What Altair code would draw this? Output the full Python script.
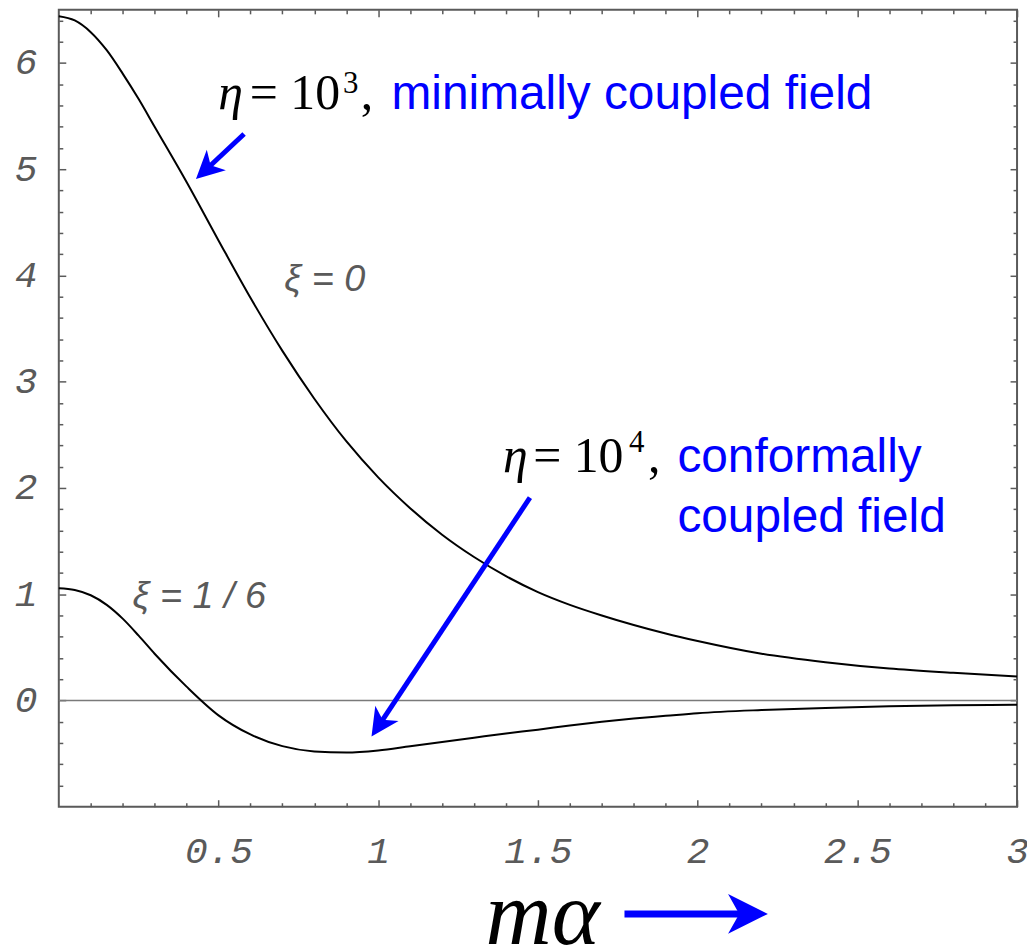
import math
import altair as alt
import pandas as pd

# ---------------- data ----------------
m_alpha = [0, 0.05, 0.1, 0.15, 0.2, 0.25, 0.3, 0.4, 0.5, 0.6, 0.7, 0.8, 0.9, 1.0,
           1.1, 1.2, 1.3, 1.4, 1.5, 1.6, 1.7, 1.8, 1.9, 2.0, 2.2, 2.4, 2.6, 2.8, 3.0]
xi_zero = [6.44, 6.40, 6.29, 6.12, 5.90, 5.66, 5.40, 4.88, 4.33, 3.79, 3.29, 2.84,
           2.44, 2.10, 1.81, 1.56, 1.35, 1.17, 1.02, 0.90, 0.80, 0.71, 0.63, 0.56,
           0.44, 0.36, 0.30, 0.26, 0.225]
xi_sixth = [1.056, 1.04, 0.99, 0.90, 0.77, 0.61, 0.44, 0.13, -0.14, -0.32, -0.43,
            -0.48, -0.49, -0.47, -0.43, -0.39, -0.35, -0.31, -0.275, -0.235, -0.20,
            -0.17, -0.145, -0.12, -0.09, -0.07, -0.055, -0.045, -0.04]

x_major = [0.5, 1, 1.5, 2, 2.5, 3]
x_minor = [round(0.1 * i, 1) for i in range(1, 30) if i % 5]
y_major = [0, 1, 2, 3, 4, 5, 6]
y_minor = [round(-1 + 0.2 * i, 1) for i in range(1, 38) if i % 5]

# annotation texts (data coordinates)
xi_text = ["ξ = 0", "ξ = 1 / 6"]
xi_text_x = [0.833, 0.44]
xi_text_y = [3.96, 0.97]

eta_x = [0.499, 1.391]
eta_y = [5.566, 2.153]
eq_x = [0.598, 1.485]
sup_text = ["3", "4"]
sup_x = [0.890, 1.785]
sup_y = [5.72, 2.34]
comma_x = [0.945, 1.845]

blue_text = ["minimally coupled field", "conformally", "coupled field"]
blue_x = [1.0416, 1.9366, 1.9366]
blue_y = [5.566, 2.153, 1.582]

# arrows: tail -> tip (data coordinates)
arrow_tail_x = [0.580, 1.475, 1.771]
arrow_tail_y = [5.331, 1.909, -2.009]
arrow_tip_x = [0.4294, 0.979, 2.220]
arrow_tip_y = [4.907, -0.340, -2.009]
arrow_head = [28, 28, 40]
arrow_shaft = [5, 5, 7]

title_text = "mα"
title_x = 1.515
title_y = -2.29

# ---------------- chart ----------------
W, H = 962, 800
XD, YD = [0, 3], [-1, 6.5]
px_x = W / (XD[1] - XD[0])
px_y = H / (YD[1] - YD[0])

xs = alt.Scale(domain=XD, nice=False, zero=False)
ys = alt.Scale(domain=YD, nice=False, zero=False)

curve_df = pd.DataFrame(
    {"m": m_alpha * 2,
     "value": xi_zero + xi_sixth,
     "series": ["xi0"] * len(m_alpha) + ["xi16"] * len(m_alpha)})

FRAME = "#5a5a5a"
LABEL = "#5a5a5a"
TICKFONT = "Liberation Mono"


def tick_axis(orient, values, size, labels=False, pad=0):
    kw = dict(orient=orient, values=values, offset=-size, tickSize=size,
              tickWidth=1.5, tickColor=FRAME, domain=False, grid=False,
              labels=labels, title=None)
    if labels:
        kw.update(labelFont=TICKFONT, labelFontStyle="italic", labelFontSize=38,
                  labelFontWeight="normal", labelColor=LABEL, labelPadding=pad,
                  format="~g", labelFlush=False, labelOverlap=False)
    return alt.Axis(**kw)


def carrier(xaxis, yaxis):
    return alt.Chart(curve_df).mark_point(opacity=0).encode(
        x=alt.X("m:Q", scale=xs, axis=xaxis),
        y=alt.Y("value:Q", scale=ys, axis=yaxis))


carriers = [
    carrier(tick_axis("bottom", x_major, 7, True, 26), tick_axis("left", y_major, 7, True, 22)),
    carrier(tick_axis("bottom", x_minor, 4), tick_axis("left", y_minor, 4)),
    carrier(tick_axis("top", x_major, 7), tick_axis("right", y_major, 7)),
    carrier(tick_axis("top", x_minor, 4), tick_axis("right", y_minor, 4)),
]

zero_line = alt.Chart(pd.DataFrame({"v": [0]})).mark_rule(
    color="#7a7a7a", strokeWidth=1.5).encode(y=alt.Y("v:Q", scale=ys, axis=None))

curves = alt.Chart(curve_df).mark_line(
    color="black", strokeWidth=2, interpolate="monotone").encode(
    x=alt.X("m:Q", scale=xs, axis=None),
    y=alt.Y("value:Q", scale=ys, axis=None),
    detail="series:N")


def text_layer(df, **mark):
    return alt.Chart(df).mark_text(**mark).encode(
        x=alt.X("x:Q", scale=xs, axis=None),
        y=alt.Y("y:Q", scale=ys, axis=None),
        text="t:N")


xi_labels = text_layer(pd.DataFrame({"x": xi_text_x, "y": xi_text_y, "t": xi_text}),
                       font="Liberation Sans", fontStyle="italic", fontSize=38,
                       color="#5a5a5a", align="center", baseline="middle")

eta = text_layer(pd.DataFrame({"x": eta_x, "y": eta_y, "t": ["η", "η"]}),
                 font="Liberation Serif", fontStyle="italic", fontSize=50,
                 color="black", align="left", baseline="alphabetic")
eq = text_layer(pd.DataFrame({"x": eq_x, "y": eta_y, "t": ["= 10", "= 10"]}),
                font="Liberation Serif", fontSize=50, color="black",
                align="left", baseline="alphabetic")
sup = text_layer(pd.DataFrame({"x": sup_x, "y": sup_y, "t": sup_text}),
                 font="Liberation Serif", fontSize=31, color="black",
                 align="left", baseline="alphabetic")
comma = text_layer(pd.DataFrame({"x": comma_x, "y": eta_y, "t": [",", ","]}),
                   font="Liberation Serif", fontSize=50, color="black",
                   align="left", baseline="alphabetic")
blue = text_layer(pd.DataFrame({"x": blue_x, "y": blue_y, "t": blue_text}),
                  font="Liberation Sans", fontSize=48, color="#0000ff",
                  align="left", baseline="alphabetic")
title = text_layer(pd.DataFrame({"x": [title_x], "y": [title_y], "t": [title_text]}),
                   font="Liberation Serif", fontStyle="italic", fontSize=92,
                   color="black", align="center", baseline="alphabetic")

# arrows
rows = []
for tx, ty, hx, hy, hl, sw in zip(arrow_tail_x, arrow_tail_y, arrow_tip_x,
                                  arrow_tip_y, arrow_head, arrow_shaft):
    dx = (hx - tx) * px_x
    dy = -(hy - ty) * px_y
    L = math.hypot(dx, dy)
    ang = math.degrees(math.atan2(dx, -dy)) % 360
    back = 0.7 * hl / L
    ex = hx - (hx - tx) * back
    ey = hy - (hy - ty) * back
    rows.append({"x": tx, "y": ty, "x2": ex, "y2": ey, "hx": hx, "hy": hy,
                 "ang": ang, "size": 4 * hl * hl, "sw": sw})
arrow_df = pd.DataFrame(rows)

shafts = alt.Chart(arrow_df).mark_rule(color="#0000ff").encode(
    x=alt.X("x:Q", scale=xs, axis=None), y=alt.Y("y:Q", scale=ys, axis=None),
    x2="x2:Q", y2="y2:Q",
    strokeWidth=alt.StrokeWidth("sw:Q", scale=None))

heads = alt.Chart(arrow_df).mark_point(
    shape="M0,0 L0.5,1 L0,0.72 L-0.5,1 Z", filled=True, color="#0000ff",
    opacity=1, strokeWidth=0).encode(
    x=alt.X("hx:Q", scale=xs, axis=None), y=alt.Y("hy:Q", scale=ys, axis=None),
    angle=alt.Angle("ang:Q", scale=None),
    size=alt.Size("size:Q", scale=None))

chart = alt.layer(
    *carriers, zero_line, curves, xi_labels, eta, eq, sup, comma, blue, title,
    shafts, heads
).resolve_axis(x="independent", y="independent").properties(
    width=W, height=H,
    autosize=alt.AutoSizeParams(type="none"),
    padding={"left": 51, "top": 0, "right": 10, "bottom": 140},
    background="white",
).configure_view(stroke=FRAME, strokeWidth=2)

chart.save("out.html", embed_options={"renderer": "svg", "actions": False})
